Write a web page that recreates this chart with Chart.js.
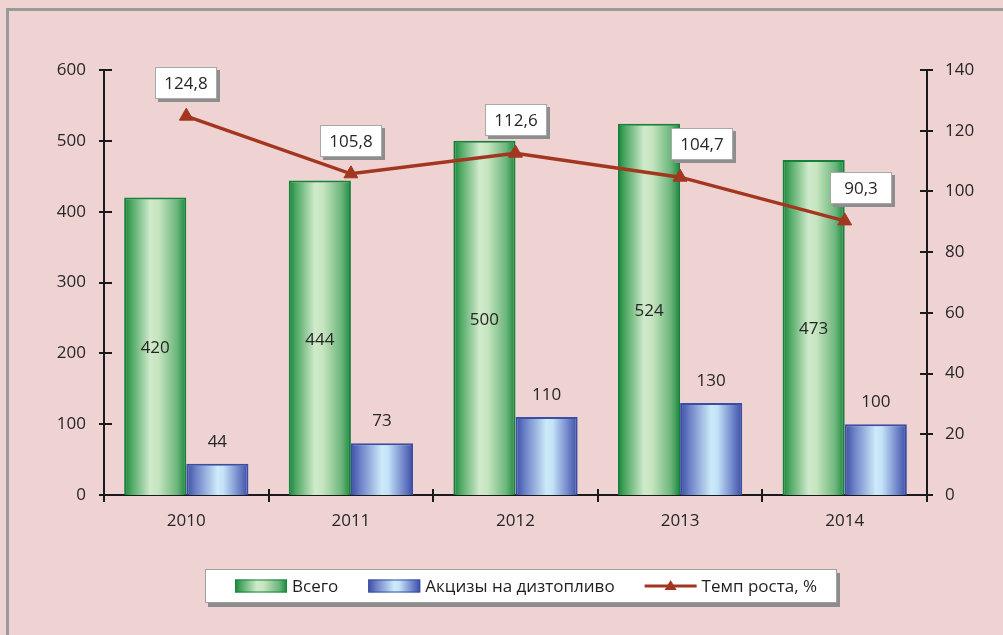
<!DOCTYPE html>
<html>
<head>
<meta charset="utf-8">
<script src="https://cdn.jsdelivr.net/npm/chart.js@4.4.1/dist/chart.umd.min.js"></script>
<style>
    html, body { margin: 0; padding: 0; background: #efd3d3; }
    #chart { display: block; }
</style>
</head>
<body>
<canvas id="chart" width="1003" height="635"></canvas>
<script>
// Dados do gráfico
var years = ['2010', '2011', '2012', '2013', '2014'];
var totalValues = [420, 444, 500, 524, 473];
var fuelValues = [44, 73, 110, 130, 100];
var growthValues = [124.8, 105.8, 112.6, 104.7, 90.3];

var seriesNames = ['Всего', 'Акцизы на дизтопливо', 'Темп роста, %'];
var leftTicks = [0, 100, 200, 300, 400, 500, 600];
var rightTicks = [0, 20, 40, 60, 80, 100, 120, 140];

var fontFamily = '"Open Sans", "Liberation Sans", sans-serif';
var lineColor = '#a2361f';
var categoryPercentage = 0.755;

var greenStops = [[0, '#17843a'], [0.12, '#4fa964'], [0.42, '#d0eacb'], [0.55, '#c6e5bf'], [0.85, '#6cb67c'], [1, '#1a863b']];
var blueStops = [[0, '#3a4ea4'], [0.15, '#6b80c6'], [0.5, '#cdeaf9'], [0.6, '#c2e2f7'], [0.85, '#6f83c9'], [1, '#3a4ea4']];

// índices dos datasets
var LINE = 0, TOTAL = 1, FUEL = 2;

function makeGradient(ctx, x0, x1, stops) {
    var g = ctx.createLinearGradient(x0, 0, x1, 0);
    stops.forEach(function (s) { g.addColorStop(s[0], s[1]); });
    return g;
}

/**
 * Gradiente horizontal de cada barra, calculado pela escala x
 */
function barGradient(c, side, stops) {
    var chart = c.chart;
    var xs = chart.scales.x;
    if (!chart.chartArea || !xs || c.dataIndex === undefined) {
        return stops[2][1];
    }
    var center = xs.getPixelForValue(c.dataIndex);
    var barW = xs.width / years.length * categoryPercentage / 2;
    var x0 = side === 0 ? center - barW : center;
    return makeGradient(chart.ctx, x0, x0 + barW, stops);
}

function fmt(v) {
    return v.toFixed(1).replace('.', ',');
}

// Fundo e moldura
var framePlugin = {
    id: 'frame',
    beforeDraw: function (chart) {
        var ctx = chart.ctx;
        ctx.save();
        ctx.fillStyle = '#efd3d3';
        ctx.fillRect(0, 0, chart.width, chart.height);
        ctx.strokeStyle = '#9a9a9a';
        ctx.lineWidth = 3;
        ctx.beginPath();
        ctx.moveTo(7.5, chart.height);
        ctx.lineTo(7.5, 9.5);
        ctx.lineTo(chart.width, 9.5);
        ctx.stroke();
        ctx.restore();
    }
};

// Marcas cruzando os eixos
var crossTicksPlugin = {
    id: 'crossTicks',
    afterDraw: function (chart) {
        var ctx = chart.ctx;
        var y = chart.scales.y, y1 = chart.scales.y1, x = chart.scales.x;
        ctx.save();
        ctx.strokeStyle = '#1a1a1a';
        ctx.lineWidth = 2;
        ctx.beginPath();
        leftTicks.forEach(function (t) {
            var p = Math.round(y.getPixelForValue(t));
            ctx.moveTo(y.right - 5, p);
            ctx.lineTo(y.right + 8, p);
        });
        rightTicks.forEach(function (t) {
            var p = Math.round(y1.getPixelForValue(t));
            ctx.moveTo(y1.left - 7, p);
            ctx.lineTo(y1.left + 6, p);
        });
        var catW = x.width / years.length;
        for (var i = 0; i <= years.length; i++) {
            var px = Math.round(x.left + i * catW);
            ctx.moveTo(px, x.top - 6);
            ctx.lineTo(px, x.top + 7);
        }
        ctx.stroke();
        ctx.restore();
    }
};

// Rótulos dos valores
var labelOffsets = [0, 0, 0, 22, 16];
var valueLabelsPlugin = {
    id: 'valueLabels',
    afterDatasetsDraw: function (chart) {
        var ctx = chart.ctx;
        ctx.save();
        ctx.font = '17px ' + fontFamily;
        ctx.textAlign = 'center';
        ctx.textBaseline = 'middle';
        ctx.fillStyle = '#262626';

        chart.getDatasetMeta(TOTAL).data.forEach(function (el, i) {
            ctx.fillText(String(totalValues[i]), el.x, (el.y + el.base) / 2 + 2);
        });
        chart.getDatasetMeta(FUEL).data.forEach(function (el, i) {
            ctx.fillText(String(fuelValues[i]), el.x, el.y - 22);
        });

        chart.getDatasetMeta(LINE).data.forEach(function (el, i) {
            var text = fmt(growthValues[i]);
            var w = 62, h = 32;
            var cx = el.x + labelOffsets[i];
            var cy = el.y - 33;
            var bx = Math.round(cx - w / 2), by = Math.round(cy - h / 2);
            ctx.fillStyle = '#8e8e8e';
            ctx.fillRect(bx + 3, by + 3, w, h);
            ctx.fillStyle = '#ffffff';
            ctx.fillRect(bx, by, w, h);
            ctx.strokeStyle = '#a8a8a8';
            ctx.lineWidth = 1;
            ctx.strokeRect(bx + 0.5, by + 0.5, w - 1, h - 1);
            ctx.fillStyle = '#262626';
            ctx.fillText(text, bx + w / 2, by + h / 2 + 1);
        });
        ctx.restore();
    }
};

// Legenda desenhada no canvas
var legendPlugin = {
    id: 'customLegend',
    afterDraw: function (chart) {
        var ctx = chart.ctx;
        var box = { x: 205, y: 569, w: 632, h: 34 };
        ctx.save();
        ctx.fillStyle = '#8c8c8c';
        ctx.fillRect(box.x + 3, box.y + 4, box.w, box.h);
        ctx.fillStyle = '#ffffff';
        ctx.fillRect(box.x, box.y, box.w, box.h);
        ctx.strokeStyle = '#a0a0a0';
        ctx.lineWidth = 1;
        ctx.strokeRect(box.x + 0.5, box.y + 0.5, box.w - 1, box.h - 1);

        ctx.font = '17px ' + fontFamily;
        ctx.textBaseline = 'middle';
        ctx.textAlign = 'left';
        var cy = box.y + box.h / 2;
        var x = 235;
        var swW = 52, swH = 13;
        for (var i = 0; i < seriesNames.length; i++) {
            if (i < 2) {
                var stops = i === 0 ? greenStops : blueStops;
                ctx.fillStyle = makeGradient(ctx, x, x + swW, stops);
                ctx.fillRect(x, cy - swH / 2, swW, swH);
                ctx.strokeStyle = stops[0][1];
                ctx.strokeRect(x + 0.5, cy - swH / 2 + 0.5, swW - 1, swH - 1);
            } else {
                ctx.strokeStyle = lineColor;
                ctx.lineWidth = 3;
                ctx.beginPath();
                ctx.moveTo(x, cy);
                ctx.lineTo(x + swW, cy);
                ctx.stroke();
                ctx.fillStyle = lineColor;
                ctx.beginPath();
                ctx.moveTo(x + swW / 2, cy - 6);
                ctx.lineTo(x + swW / 2 + 6, cy + 4);
                ctx.lineTo(x + swW / 2 - 6, cy + 4);
                ctx.closePath();
                ctx.fill();
                ctx.lineWidth = 1;
            }
            x += swW + 5;
            ctx.fillStyle = '#1f1f1f';
            ctx.fillText(seriesNames[i], x, cy + 1);
            x += ctx.measureText(seriesNames[i]).width + 30;
        }
        ctx.restore();
    }
};

var tickFont = { family: fontFamily, size: 17 };

var ctxChart = document.getElementById('chart');
var chart = new Chart(ctxChart, {
    data: {
        labels: years,
        datasets: [{
            type: 'line',
            label: seriesNames[2],
            data: growthValues,
            yAxisID: 'y1',
            borderColor: lineColor,
            backgroundColor: lineColor,
            borderWidth: 3.5,
            pointStyle: 'triangle',
            pointRadius: 8,
            pointBackgroundColor: lineColor,
            pointBorderColor: lineColor,
            pointBorderWidth: 1,
            tension: 0,
            order: 0
        }, {
            type: 'bar',
            label: seriesNames[0],
            data: totalValues,
            yAxisID: 'y',
            backgroundColor: function (c) { return barGradient(c, 0, greenStops); },
            borderColor: '#15803a',
            borderWidth: 2,
            barPercentage: 1,
            categoryPercentage: categoryPercentage,
            order: 1
        }, {
            type: 'bar',
            label: seriesNames[1],
            data: fuelValues,
            yAxisID: 'y',
            backgroundColor: function (c) { return barGradient(c, 1, blueStops); },
            borderColor: '#3a4ea4',
            borderWidth: 2,
            barPercentage: 1,
            categoryPercentage: categoryPercentage,
            order: 1
        }]
    },
    options: {
        responsive: false,
        animation: false,
        devicePixelRatio: 1,
        layout: { padding: { top: 70, left: 0, right: 0, bottom: 0 } },
        plugins: {
            legend: { display: false },
            tooltip: { enabled: false }
        },
        scales: {
            x: {
                offset: true,
                grid: { display: false, drawTicks: false },
                border: { display: true, color: '#1a1a1a', width: 2 },
                ticks: { font: tickFont, color: '#262626', padding: 16, maxRotation: 0 },
                afterFit: function (s) { s.height = 140; }
            },
            y: {
                position: 'left',
                min: 0,
                max: 600,
                grid: { display: false, drawTicks: false },
                border: { display: true, color: '#1a1a1a', width: 2 },
                ticks: { stepSize: 100, font: tickFont, color: '#262626', padding: 18 },
                afterFit: function (s) { s.width = 104; }
            },
            y1: {
                position: 'right',
                min: 0,
                max: 140,
                grid: { display: false, drawTicks: false },
                border: { display: true, color: '#1a1a1a', width: 2 },
                ticks: { stepSize: 20, font: tickFont, color: '#262626', padding: 18 },
                afterFit: function (s) { s.width = 76; }
            }
        }
    },
    plugins: [framePlugin, crossTicksPlugin, valueLabelsPlugin, legendPlugin]
});
</script>
</body>
</html>
